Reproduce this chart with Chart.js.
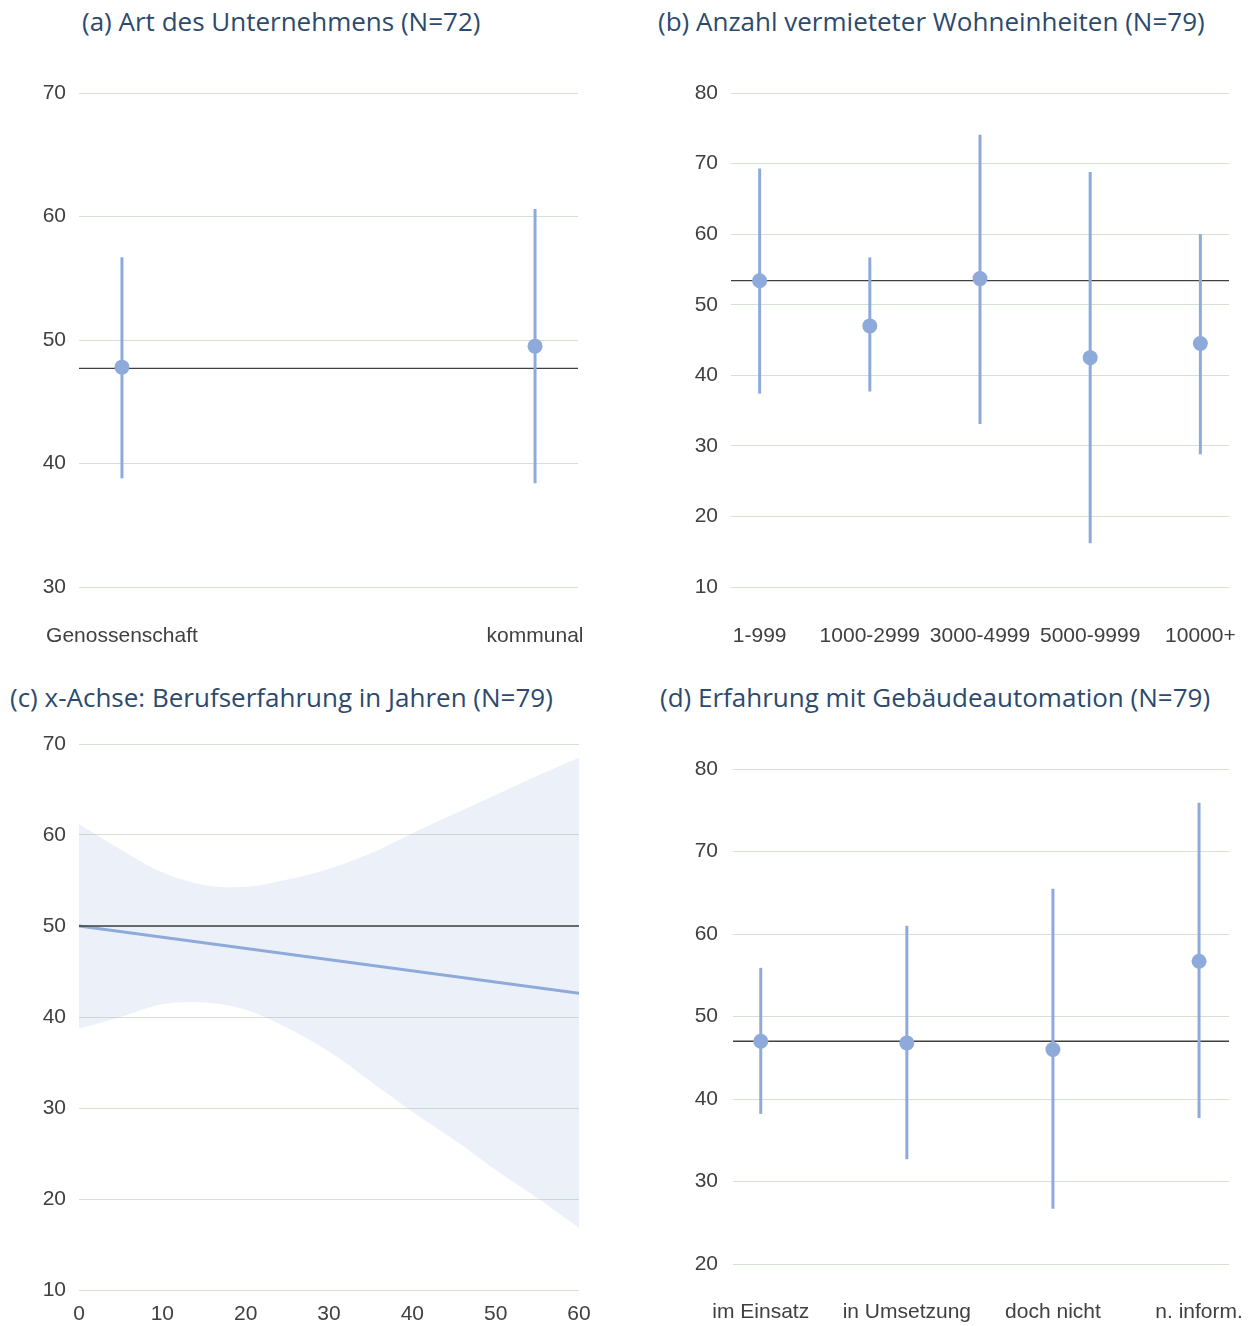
<!DOCTYPE html>
<html><head><meta charset="utf-8">
<script src="https://cdn.jsdelivr.net/npm/chart.js@4.4.0/dist/chart.umd.min.js"></script>
<style>
body{margin:0;background:#fff;width:1255px;height:1326px;position:relative;overflow:hidden}
canvas{position:absolute}
.t{position:absolute;font-family:'Open Sans';color:#2c4a6e;font-size:26px;white-space:nowrap;line-height:30px;height:30px}
</style></head><body>
<div class="t" style="left:82px;top:6px">(a) Art des Unternehmens (N=72)</div>
<div class="t" style="left:658px;top:6px">(b) Anzahl vermieteter Wohneinheiten (N=79)</div>
<div class="t" style="left:10px;top:682px">(c) x-Achse: Berufserfahrung in Jahren (N=79)</div>
<div class="t" style="left:660px;top:682px">(d) Erfahrung mit Gebäudeautomation (N=79)</div>
<canvas id="ca" width="620" height="600" style="left:0;top:60px"></canvas>
<canvas id="cb" width="615" height="600" style="left:640px;top:60px"></canvas>
<canvas id="cc" width="620" height="606" style="left:0;top:720px"></canvas>
<canvas id="cd" width="615" height="606" style="left:640px;top:720px"></canvas>
<script>
// ---- data ----
const catsA = ['Genossenschaft', 'kommunal'];
const meanA = [47.8, 49.5];
const lowA  = [38.8, 38.4];
const highA = [56.7, 60.6];
const refA  = 47.7;

const catsB = ['1-999', '1000-2999', '3000-4999', '5000-9999', '10000+'];
const meanB = [53.4, 47.0, 53.7, 42.5, 44.5];
const lowB  = [37.4, 37.7, 33.1, 16.2, 28.8];
const highB = [69.3, 56.7, 74.1, 68.8, 60.0];
const refB  = 53.4;

const yearsC = [0, 5, 10, 15, 20, 25, 30, 35, 40, 45, 50, 55, 60];
const upperC = [61.2, 58.4, 55.9, 54.5, 54.3, 55.1, 56.3, 58.0, 60.2, 62.3, 64.4, 66.5, 68.5];
const lowerC = [38.7, 40.0, 41.4, 41.6, 40.8, 38.8, 36.2, 32.9, 29.6, 26.5, 23.2, 20.1, 16.8];
const fitXC  = [0, 60];
const fitYC  = [50.0, 42.6];
const refC   = 50.0;

const catsD = ['im Einsatz', 'in Umsetzung', 'doch nicht', 'n. inform.'];
const meanD = [47.0, 46.8, 46.0, 56.7];
const lowD  = [38.2, 32.7, 26.7, 37.7];
const highD = [55.9, 61.0, 65.5, 75.9];
const refD  = 47.0;

// ---- style ----
const BLUE = '#8eaadb';
const GRID = '#d7e1d3';
const REF = '#404040';
const TICK = '#404040';
const FONT = {family: "'Liberation Sans', Arial, sans-serif", size: 21};

function baseOptions(o) {
  return {
    responsive: false, animation: false, devicePixelRatio: 1,
    layout: {padding: {left: 0, top: o.top, right: o.right, bottom: 0}},
    plugins: {legend: {display: false}, tooltip: {enabled: false}},
    scales: {
      x: {
        type: 'linear', min: o.xMin, max: o.xMax,
        grid: {display: false, drawTicks: false}, border: {display: false},
        ticks: Object.assign({color: TICK, font: FONT, padding: o.xPad, maxRotation: 0, autoSkip: false}, o.xTicks || {}),
        afterBuildTicks: o.afterBuildTicks,
        afterFit: s => { s.height = o.xH; s.paddingLeft = 0; s.paddingRight = 0; }
      },
      y: {
        min: o.yMin, max: o.yMax,
        grid: {color: GRID, lineWidth: 1, drawTicks: false}, border: {display: false},
        ticks: {stepSize: 10, color: TICK, font: FONT, padding: o.yPad},
        afterFit: s => { s.width = o.yW; s.paddingTop = 0; s.paddingBottom = 0; }
      }
    }
  };
}

function errChart(id, cats, mean, low, high, ref, o) {
  const datasets = [];
  datasets.push({
    data: cats.map((c, i) => ({x: i, y: mean[i]})),
    pointRadius: 7.5, pointBackgroundColor: BLUE, pointBorderWidth: 0, showLine: false
  });
  cats.forEach((c, i) => {
    datasets.push({
      data: [{x: i, y: low[i]}, {x: i, y: high[i]}],
      showLine: true, borderColor: BLUE, borderWidth: 3, pointRadius: 0, borderCapStyle: 'butt'
    });
  });
  datasets.push({
    data: [{x: o.xMin, y: ref}, {x: o.xMax, y: ref}],
    showLine: true, borderColor: REF, borderWidth: 1.3, pointRadius: 0
  });
  o.afterBuildTicks = s => { s.ticks = cats.map((c, i) => ({value: i})); };
  o.xTicks = {callback: v => cats[v] !== undefined ? cats[v] : ''};
  new Chart(document.getElementById(id), {type: 'scatter', data: {datasets}, options: baseOptions(o)});
}

errChart('ca', catsA, meanA, lowA, highA, refA,
  {top: 33, right: 42, xH: 73, yW: 79, xPad: 37, yPad: 13, xMin: -0.104, xMax: 1.104, yMin: 30, yMax: 70});
errChart('cb', catsB, meanB, lowB, highB, refB,
  {top: 33, right: 26, xH: 73, yW: 91, xPad: 37, yPad: 13, xMin: -0.26, xMax: 4.26, yMin: 10, yMax: 80});
errChart('cd', catsD, meanD, lowD, highD, refD,
  {top: 49, right: 26, xH: 62, yW: 93, xPad: 36, yPad: 15, xMin: -0.19, xMax: 3.205, yMin: 20, yMax: 80});

// panel c
(function () {
  const o = {top: 24, right: 41, xH: 36, yW: 79, xPad: 12, yPad: 13, xMin: 0, xMax: 60, yMin: 10, yMax: 70};
  const opts = baseOptions(o);
  opts.scales.x.ticks.stepSize = 10;
  const datasets = [
    {data: [{x: fitXC[0], y: refC}, {x: fitXC[1], y: refC}], showLine: true, borderColor: REF, borderWidth: 1.3, pointRadius: 0},
    {data: fitXC.map((x, i) => ({x, y: fitYC[i]})), showLine: true, borderColor: BLUE, borderWidth: 3, pointRadius: 0},
    {data: yearsC.map((x, i) => ({x, y: upperC[i]})), showLine: true, borderWidth: 0, borderColor: 'rgba(0,0,0,0)', pointRadius: 0,
     tension: 0.35, fill: '+1', backgroundColor: 'rgba(142,170,219,0.17)'},
    {data: yearsC.map((x, i) => ({x, y: lowerC[i]})), showLine: true, borderWidth: 0, borderColor: 'rgba(0,0,0,0)', pointRadius: 0,
     tension: 0.35}
  ];
  new Chart(document.getElementById('cc'), {type: 'scatter', data: {datasets}, options: opts});
})();
</script>
</body></html>
